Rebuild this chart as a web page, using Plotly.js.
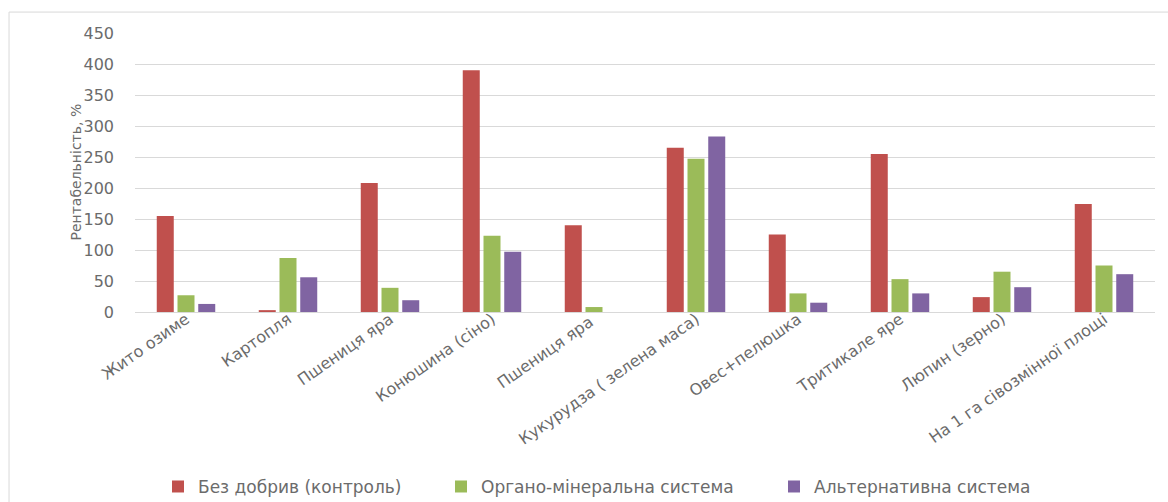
<!DOCTYPE html>
<html>
<head>
<meta charset="utf-8">
<script src="https://cdn.plot.ly/plotly-3.0.1.min.js"></script>
<style>html,body{margin:0;padding:0;background:#fff;}#chart{width:1168px;height:502px;}</style>
</head>
<body>
<div id="chart"></div>
<script>
const categories = ["Жито озиме","Картопля","Пшениця яра","Конюшина (сіно)","Пшениця яра ","Кукурудза ( зелена маса)","Овес+пелюшка","Тритикале яре","Люпин (зерно)","На 1 га сівозмінної площі"];
const seriesNames = ["Без добрив (контроль)","Органо-мінеральна система","Альтернативна система"];
const control = [155, 3, 208, 390, 140, 265, 125, 255, 24, 174];
const organoMineral = [27, 87, 39, 123, 8, 247, 30, 53, 65, 75];
const alternative = [13, 56, 19, 97, 0, 283, 15, 30, 40, 61];
const yTicks = [0,50,100,150,200,250,300,350,400,450];
const yTitle = "Рентабельність, %";

const colors = ["#C0504D","#9BBB59","#8064A2"];
const legendIds = ['legend','legend2','legend3'];
const values = [control, organoMineral, alternative];
const traces = values.map((v,i)=>({
  type:'bar', x:categories, y:v, name:seriesNames[i], legend:legendIds[i],
  marker:{color:colors[i]}, hoverinfo:'x+y+name'
}));

const txt = '#6b6b6b';
const legendPx = [158, 441, 774];
function mkLegend(px){
  return {orientation:'h', x:px/1168, xref:'container', xanchor:'left', y:0.03, yref:'container', yanchor:'middle',
          font:{size:17, color:txt}, itemwidth:30, bgcolor:'rgba(0,0,0,0)'};
}
const layout = {
  width:1168, height:502,
  margin:{l:135, r:13, t:33, b:190},
  paper_bgcolor:'#fff', plot_bgcolor:'#fff',
  font:{family:'"DejaVu Sans", sans-serif', size:13, color:txt},
  barmode:'group', bargap:0.39, bargroupgap:0.18,
  showlegend:true,
  legend:mkLegend(legendPx[0]), legend2:mkLegend(legendPx[1]), legend3:mkLegend(legendPx[2]),
  xaxis:{type:'category', tickangle:-35, showgrid:false, showline:false, zeroline:false,
         ticks:'', ticklabelstandoff:-6, tickfont:{size:16, color:txt}, automargin:false},
  yaxis:{range:[0,450], tickvals:yTicks, showgrid:true, gridcolor:'#d9d9d9', gridwidth:1,
         zeroline:true, zerolinecolor:'#d9d9d9', showline:false, ticks:'', ticklabelstandoff:20,
         tickfont:{size:16, color:txt}, automargin:false},
  annotations:[{text:yTitle, xref:'paper', yref:'paper', x:-0.0588, y:0.5, xanchor:'center', yanchor:'middle',
                textangle:-90, showarrow:false, font:{size:14, color:txt}}],
  shapes:[{type:'rect', xref:'paper', yref:'paper', x0:-0.1235, x1:1.05, y0:-0.8, y1:1.075,
           line:{color:'#d9d9d9', width:1}, fillcolor:'rgba(0,0,0,0)', layer:'below'}]
};
Plotly.newPlot('chart', traces, layout, {displayModeBar:false, staticPlot:true});
</script>
</body>
</html>
